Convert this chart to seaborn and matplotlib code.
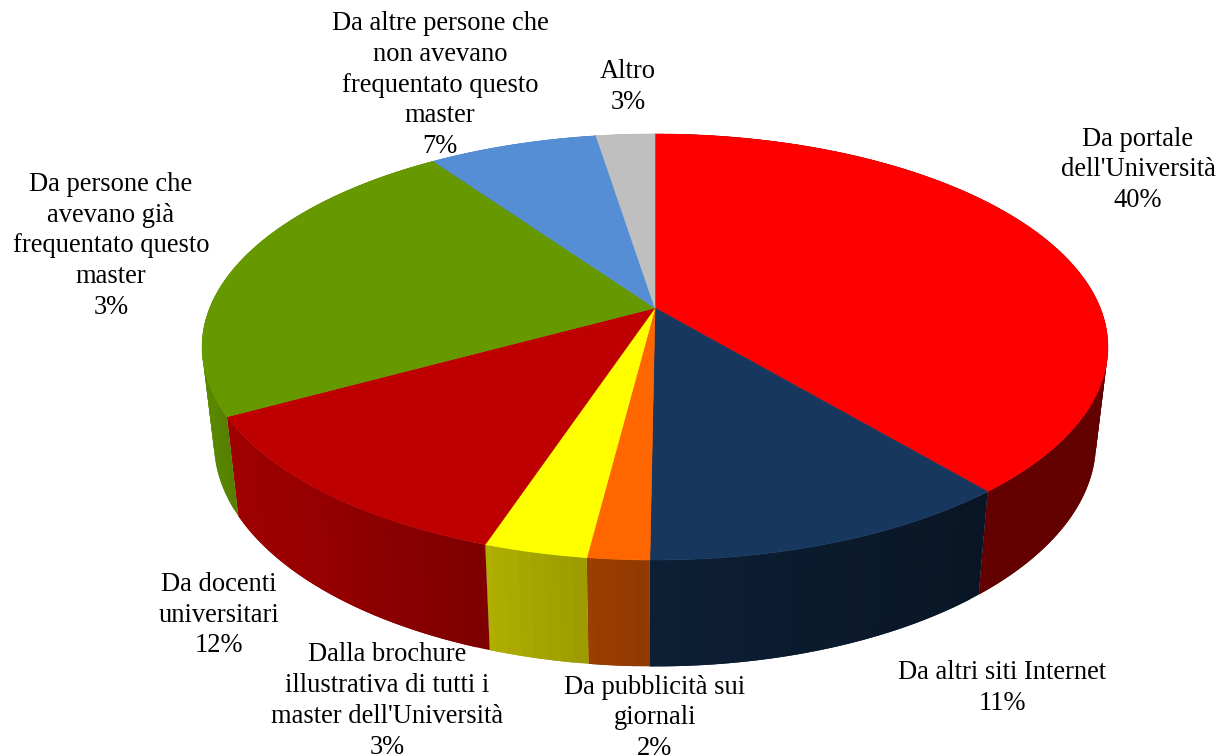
import numpy as np
import pandas as pd
import matplotlib
matplotlib.use("Agg")
import matplotlib.pyplot as plt
import seaborn as sns

# slice shares (the printed labels do not add up to 100)
names = ["Da portale\ndell'Università", "Da altri siti Internet", "Da pubblicità sui\ngiornali",
         "Dalla brochure\nillustrativa di tutti i\nmaster dell'Università", "Da docenti\nuniversitari",
         "Da persone che\navevano già\nfrequentato questo\nmaster",
         "Da altre persone che\nnon avevano\nfrequentato questo\nmaster", "Altro"]
shares = [38.9, 11.25, 1.85, 3.1, 11.9, 23.3, 7.2, 2.5]
printed = ["40%", "11%", "2%", "3%", "12%", "3%", "7%", "3%"]
colors = ["#FF0000", "#17375E", "#FF6600", "#FFFF00", "#BE0000", "#669900", "#558ED5", "#BFBFBF"]
label_x = [1138, 1002, 655, 387, 219, 111, 440, 628]
label_y = [170, 688, 718, 701, 615, 246, 85, 87]

df = pd.DataFrame({"name": names, "share": shares, "printed": printed})
df["stop"] = df["share"].cumsum() / df["share"].sum() * 360
df["start"] = df["stop"].shift(1, fill_value=0)

# perspective of the disc, in pixels
k = 0.183
cx = 655


def project(deg, a, b, y0):
    t = np.radians(deg)
    w = 1 + k * np.cos(t)
    return cx + a * np.sin(t) / w, y0 - b * np.cos(t) / w


def top(deg):
    return project(deg, 445.3, 205.9, 308)


def bottom(deg):
    return project(deg, 433.5, 216, 402)


def wall_shade(deg):
    return np.interp(deg, [140, 181, 187, 198, 198.5, 220, 241, 250], [0.39, 0.57, 0.61, 0.69, 0.66, 0.79, 0.84, 0.88])


sns.set_theme(style="white")
plt.rcParams['font.family'] = ['Liberation Serif', 'DejaVu Serif']
palette = sns.color_palette(colors)

fig = plt.figure(figsize=(12.2, 7.56), dpi=100)
ax = fig.add_axes([0, 0, 1, 1])
ax.set_xlim(0, 1220)
ax.set_ylim(756, 0)
ax.axis("off")

# side wall: overlapping strips, each one covers the join with the one before
for i, row in df.iterrows():
    edges = np.append(np.arange(row["start"], row["stop"], 1.5), row["stop"])
    for j in range(len(edges) - 1):
        a = edges[j]
        b = edges[min(j + 2, len(edges) - 1)]
        deg = np.linspace(a, b, 6)
        xt, yt = top(deg)
        xb, yb = bottom(deg[::-1])
        c = np.array(palette[i]) * wall_shade(a)
        ax.fill(np.r_[xt, xb], np.r_[yt, yb], color=c, lw=0)

# top face
for i, row in df.iterrows():
    deg = np.linspace(row["start"], row["stop"], 120)
    x, y = top(deg)
    ax.fill(np.r_[cx, x], np.r_[308, y], color=palette[i], lw=0.4)

for i, row in df.iterrows():
    ax.text(label_x[i], label_y[i], row["name"] + "\n" + row["printed"], ha="center", va="center",
            fontsize=19.1, color="black", linespacing=1.31, clip_on=False)

fig.savefig("out.png", dpi=100)
